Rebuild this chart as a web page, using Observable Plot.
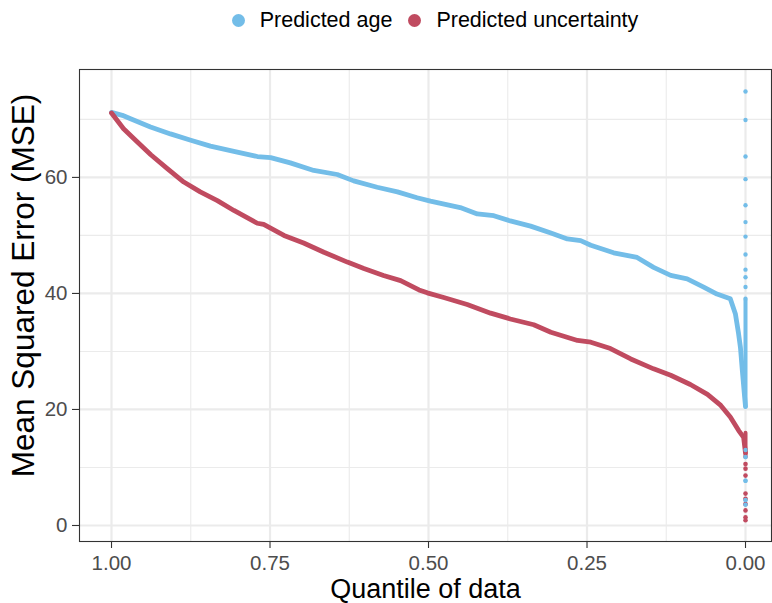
<!DOCTYPE html>
<html><head><meta charset="utf-8">
<script src="https://cdn.jsdelivr.net/npm/d3@7"></script>
<script src="https://cdn.jsdelivr.net/npm/@observablehq/plot@0.6"></script>
<style>
body{margin:0;background:#fff;font-family:"Liberation Sans",Arial,sans-serif;}
#legend{position:relative;height:40px;width:772px;}
#legend .row{position:absolute;left:231.7px;top:0;height:40px;display:flex;align-items:center;font-size:21.5px;color:#000;white-space:nowrap;}
#legend .sw{width:13px;height:13px;border-radius:50%;margin-right:15px;flex:none;}
#legend .lab{margin-right:16px;}
#chart svg{overflow:visible;}
</style></head><body>
<div id="legend"></div><div id="chart"></div>
<script>
const seriesNames = ["Predicted age", "Predicted uncertainty"];
const seriesColors = ["#73BDE8", "#C04B60"];

// Predicted age: main curve (quantile of data, MSE)
const ageQuantile = [1.0,0.983,0.970,0.9385,0.907,0.875,0.844,0.807,0.770,0.749,0.718,0.681,0.644,0.618,0.581,0.549,0.518,0.497,0.450,0.423,0.397,0.371,0.339,0.307,0.281,0.260,0.244,0.208,0.171,0.145,0.118,0.092,0.066,0.045,0.024,0.016,0.011,0.008,0.005,0.0016,0.0];
const ageMSE      = [71.2,70.7,70.1,68.7,67.5,66.4,65.4,64.5,63.6,63.4,62.5,61.2,60.5,59.4,58.3,57.5,56.5,55.9,54.8,53.7,53.4,52.5,51.6,50.4,49.4,49.1,48.3,47.0,46.2,44.5,43.1,42.5,41.1,39.9,39.1,36.5,33.1,30.7,26.7,22.4,20.5];
// Predicted age: scattered points at quantile 0
const ageTailMSE = [74.8,69.9,63.6,59.7,55.2,52.3,49.8,46.7,44.1,42.8,41.1,39.1,13.0,11.8,7.7,4.4,3.6];
const ageColumn = [20.4, 38.8];

// Predicted uncertainty: main curve
const uncQuantile = [1.0,0.981,0.965,0.938,0.912,0.886,0.860,0.833,0.807,0.770,0.760,0.728,0.697,0.665,0.628,0.602,0.571,0.544,0.515,0.502,0.476,0.439,0.402,0.371,0.334,0.307,0.265,0.244,0.213,0.181,0.145,0.118,0.087,0.060,0.039,0.024,0.011,0.003,0.0];
const uncMSE      = [71.1,68.4,66.7,63.9,61.5,59.2,57.5,56.0,54.3,52.1,51.9,50.0,48.7,47.1,45.4,44.3,43.1,42.2,40.6,40.1,39.3,38.1,36.6,35.6,34.6,33.3,31.9,31.6,30.5,28.7,27.0,25.9,24.3,22.6,20.7,18.7,16.4,15.2,12.5];
const uncTailMSE = [10.6,9.8,8.6,5.5,4.6,3.7,2.6,1.4,0.9];
const uncColumn = [11.7, 15.9];

const xTicks = [1, 0.75, 0.5, 0.25, 0];
const xMinor = [0.875, 0.625, 0.375, 0.125];
const yTicks = [0, 20, 40, 60];
const yMinor = [10, 30, 50, 70];

const ageLine = ageQuantile.map((q, i) => ({q, mse: ageMSE[i]}));
const uncLine = uncQuantile.map((q, i) => ({q, mse: uncMSE[i]}));
const ageTail = ageTailMSE.map(mse => ({q: 0, mse}));
const uncTail = uncTailMSE.map(mse => ({q: 0, mse}));

// legend
const row = document.createElement("div");
row.className = "row";
seriesNames.forEach((n, i) => {
  const sw = document.createElement("span"); sw.className = "sw"; sw.style.background = seriesColors[i];
  const lab = document.createElement("span"); lab.className = "lab"; lab.textContent = n;
  row.appendChild(sw); row.appendChild(lab);
});
document.getElementById("legend").appendChild(row);

const grid = "#ebebeb";
const chart = Plot.plot({
  width: 772,
  height: 563,
  marginTop: 29,
  marginBottom: 62,
  marginLeft: 79,
  marginRight: 1,
  style: {fontFamily: "Liberation Sans, Arial, sans-serif", background: "white", overflow: "visible"},
  x: {domain: [1.0505, -0.041]},
  y: {domain: [-2.76, 78.6]},
  marks: [
    Plot.gridX(xMinor, {stroke: grid, strokeOpacity: 1, strokeWidth: 1.1}),
    Plot.gridY(yMinor, {stroke: grid, strokeOpacity: 1, strokeWidth: 1.1}),
    Plot.gridX(xTicks, {stroke: grid, strokeOpacity: 1, strokeWidth: 2.2}),
    Plot.gridY(yTicks, {stroke: grid, strokeOpacity: 1, strokeWidth: 2.2}),
    Plot.line(ageLine, {x: "q", y: "mse", stroke: seriesColors[0], strokeWidth: 4.8, strokeLinejoin: "round", strokeLinecap: "round"}),
    Plot.ruleX([0], {y1: ageColumn[0], y2: ageColumn[1], stroke: seriesColors[0], strokeWidth: 4, strokeLinecap: "round"}),
    Plot.dot(ageTail, {x: "q", y: "mse", r: 2.2, fill: seriesColors[0]}),
    Plot.line(uncLine, {x: "q", y: "mse", stroke: seriesColors[1], strokeWidth: 4.8, strokeLinejoin: "round", strokeLinecap: "round"}),
    Plot.ruleX([0], {y1: uncColumn[0], y2: uncColumn[1], stroke: seriesColors[1], strokeWidth: 4, strokeLinecap: "round"}),
    Plot.dot(uncTail, {x: "q", y: "mse", r: 2.3, fill: seriesColors[1]}),
    Plot.dot(ageTail.slice(-5), {x: "q", y: "mse", r: 2.2, fill: seriesColors[0]}),
    Plot.frame({stroke: "#333", strokeWidth: 1.1}),
    Plot.axisX(xTicks, {tickFormat: d3.format(".2f"), tickSize: 7, tickPadding: 7, fontSize: 20.5, stroke: "#333", strokeWidth: 1.1, fill: "#4d4d4d", label: null}),
    Plot.axisY(yTicks, {tickSize: 7, tickPadding: 5, fontSize: 20.5, stroke: "#333", strokeWidth: 1.1, fill: "#4d4d4d", label: null}),
    Plot.text(["Quantile of data"], {text: d => d, frameAnchor: "bottom", textAnchor: "middle", dy: 56, lineAnchor: "bottom", fontSize: 27, fill: "#000"}),
    Plot.text(["Mean Squared Error (MSE)"], {text: d => d, frameAnchor: "left", textAnchor: "middle", rotate: -90, dx: -46, dy: -20, lineAnchor: "bottom", fontSize: 31.5, fill: "#000"})
  ]
});
document.getElementById("chart").appendChild(chart);
</script>
</body></html>
